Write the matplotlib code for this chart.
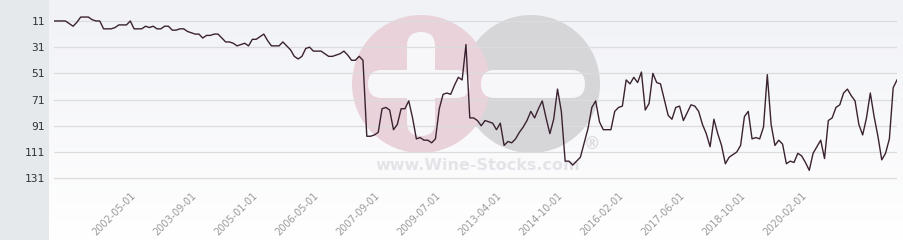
import numpy as np
import matplotlib
matplotlib.use("Agg")
import matplotlib.pyplot as plt
import matplotlib.transforms as mtransforms
from matplotlib.patches import Ellipse, FancyBboxPatch, Rectangle

# rank history (lower = better), one value per category
ranks = [11, 11, 11, 11, 13, 15, 12, 8, 8, 8, 10, 11, 11, 17, 17, 17, 16, 14, 14, 14,
         11, 17, 17, 17, 15, 16, 15, 17, 17, 15, 15, 18, 18, 17, 17, 19, 20, 21, 21, 24,
         22, 22, 21, 21, 24, 27, 27, 28, 30, 29, 28, 30, 25, 25, 23, 21, 26, 30, 30, 30,
         27, 30, 33, 38, 40, 38, 32, 31, 34, 34, 34, 36, 38, 38, 37, 36, 34, 37, 41, 41,
         38, 41, 99, 99, 98, 96, 78, 77, 79, 94, 90, 78, 78, 72, 85, 101, 100, 102, 102, 104,
         101, 78, 67, 66, 67, 60, 54, 56, 29, 85, 85, 87, 91, 87, 88, 89, 94, 89, 106, 103,
         104, 101, 96, 92, 87, 80, 85, 78, 72, 85, 97, 86, 63, 80, 118, 118, 121, 118, 115, 104,
         93, 77, 72, 88, 94, 94, 94, 80, 77, 76, 56, 59, 54, 58, 50, 79, 74, 51, 58, 59,
         71, 83, 86, 77, 76, 87, 81, 75, 76, 80, 90, 97, 107, 86, 97, 106, 120, 115, 113, 111,
         106, 84, 80, 101, 100, 101, 92, 52, 90, 106, 102, 105, 120, 118, 119, 112, 114, 119, 125, 112,
         107, 102, 116, 87, 85, 77, 75, 66, 63, 68, 72, 90, 98, 85, 66, 84, 99, 117, 112, 101,
         62, 56]

tick_labels = ["2002-05-01", "2003-09-01", "2005-01-01", "2006-05-01", "2007-09-01",
               "2009-07-01", "2013-04-01", "2014-10-01", "2016-02-01", "2017-06-01",
               "2018-10-01", "2020-02-01"]
first_tick = 21
tick_step = 16
y_ticks = [11, 31, 51, 71, 91, 111, 131]

W, H = 904, 240
fig = plt.figure(figsize=(W / 100, H / 100), dpi=100)

# background: grey strip on the left, soft gradient elsewhere
bg = fig.add_axes([0, 0, 1, 1], zorder=-5)
grad = np.linspace(0, 1, 240)[:, None] * np.ones((1, 10))
top = np.array([241, 242, 246]) / 255
bot = np.array([255, 255, 255]) / 255
img = top[None, None, :] * (1 - grad[..., None]) + bot[None, None, :] * grad[..., None]
bg.imshow(img, aspect="auto", extent=[0, W, 0, H], origin="upper")
bg.add_patch(Rectangle((0, 0), 49, H, color="#e6e9ec", lw=0))
bg.set_xlim(0, W)
bg.set_ylim(0, H)
bg.axis("off")

# watermark (pixel coords, y from top)
def px(x, y):
    return x, H - y

bg.add_patch(Ellipse(px(531, 84), 138, 138, color="#d6d6d9", lw=0))
bg.add_patch(Ellipse(px(421, 84), 138, 138, color="#e9d2da", lw=0))
bg.add_patch(FancyBboxPatch(px(368, 98), 102, 28, boxstyle="round,pad=0,rounding_size=14",
                            color="#f7f7fa", lw=0))
bg.add_patch(FancyBboxPatch(px(407, 136), 28, 104, boxstyle="round,pad=0,rounding_size=14",
                            color="#f7f7fa", lw=0))
bg.add_patch(FancyBboxPatch(px(481, 98), 104, 28, boxstyle="round,pad=0,rounding_size=14",
                            color="#f7f7fa", lw=0))
bg.text(*px(478, 166), "www.Wine-Stocks.com", ha="center", va="center",
        fontsize=11.5, fontweight="bold", color="#e4e4e8", family="DejaVu Sans")
bg.text(*px(592, 145), "®", ha="center", va="center",
        fontsize=12, fontweight="bold", color="#dcdcdf", family="DejaVu Sans")

# main axes: x 54..897 px, y 5..188 px
ax = fig.add_axes([54 / W, (H - 188) / H, (897 - 54) / W, 183 / H])
ax.set_facecolor("none")
x = np.arange(len(ranks))
ax.plot(x, ranks, color="#3b2230", lw=1.0, zorder=3)

ax.set_xlim(0, len(ranks) - 1)
ax.set_ylim(138.5, -1.2)
ax.set_yticks(y_ticks)
ax.set_yticklabels([str(v) for v in y_ticks], family="DejaVu Sans Mono",
                   fontsize=8, color="#333333")
ax.tick_params(axis="y", length=0, pad=6.5)

ticks = [first_tick + tick_step * k for k in range(len(tick_labels))]
ax.set_xticks(ticks)
ax.set_xticklabels(tick_labels, rotation=45, ha="right", va="top",
                   rotation_mode="anchor", fontsize=7, color="#9a9a9a")
ax.tick_params(axis="x", length=0, pad=2)
shift = mtransforms.ScaledTranslation(-4 / 100, 0, fig.dpi_scale_trans)
for lbl in ax.get_xticklabels():
    lbl.set_transform(lbl.get_transform() + shift)

ax.grid(axis="y", color="#dcdcdf", lw=0.9)
ax.grid(axis="x", visible=False)
ax.set_axisbelow(True)
for s in ax.spines.values():
    s.set_visible(False)

fig.savefig("out.png", dpi=100)
